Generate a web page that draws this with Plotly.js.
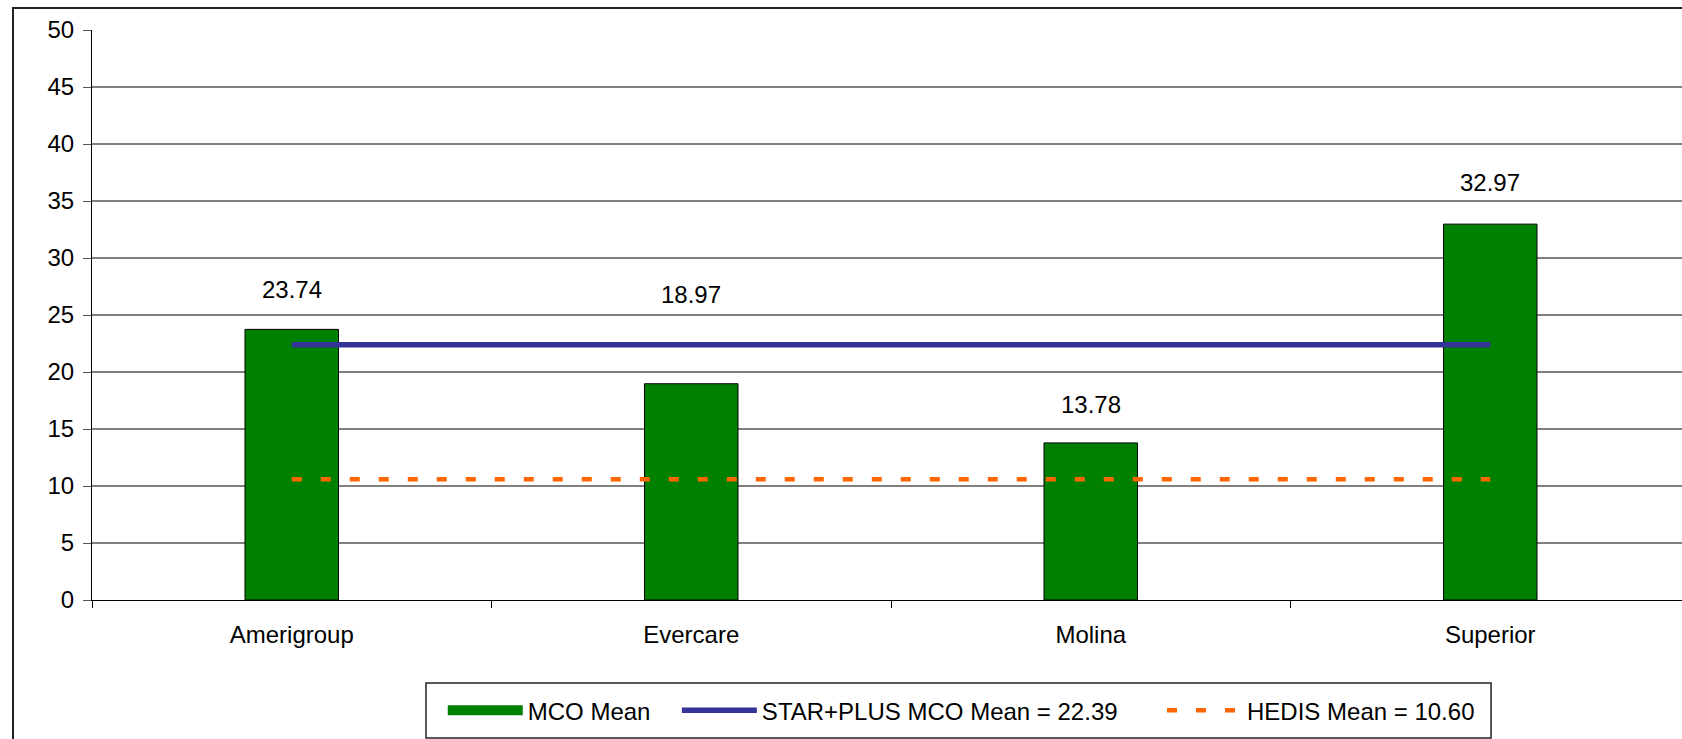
<!DOCTYPE html>
<html>
<head>
<meta charset="utf-8">
<script src="https://cdn.plot.ly/plotly-3.0.1.min.js"></script>
<style>
  html, body { margin: 0; padding: 0; overflow: hidden; background: #fff; }
  #frame { position: absolute; left: 12px; top: 7px; border: 2px solid #222; width: 1700px; height: 760px; }
  #chart { width: 1700px; height: 760px; }
</style>
</head>
<body>
<div id="frame"><div id="chart"></div></div>
<script>
const categories = ["Amerigroup", "Evercare", "Molina", "Superior"];
const mcoMean = [23.74, 18.97, 13.78, 32.97];
const starPlusMean = [22.39, 22.39, 22.39, 22.39];
const hedisMean = [10.60, 10.60, 10.60, 10.60];
const seriesNames = ["MCO Mean", "STAR+PLUS MCO Mean = 22.39", "HEDIS Mean = 10.60"];
const yTicks = [0, 5, 10, 15, 20, 25, 30, 35, 40, 45, 50];

// label placement offsets (px above bar top), as in the original chart
const labelShift = [40, 89, 38, 42];

const FONT = "Liberation Sans, Arial, sans-serif";
const FS = 24;

const traces = [
  {
    type: "bar", x: categories, y: mcoMean, name: seriesNames[0],
    showlegend: false,
    width: 0.234,
    marker: { color: "#008000", line: { color: "#000000", width: 1 } },
    hoverinfo: "none"
  },
  {
    // legend key only (wide green swatch like the original); draws no marks
    type: "scatter", mode: "lines", x: [null], y: [null], name: seriesNames[0], legend: "legend",
    line: { color: "#008000", width: 17 },
    hoverinfo: "none"
  },
  {
    type: "scatter", mode: "lines", x: categories, y: starPlusMean, name: seriesNames[1], legend: "legend2",
    line: { color: "#333399", width: 5.5 },
    hoverinfo: "none"
  },
  {
    type: "scatter", mode: "lines", x: categories, y: hedisMean, name: seriesNames[2], legend: "legend3",
    line: { color: "#FF6600", width: 4.5, dash: "10px,19px" },
    hoverinfo: "none"
  }
];

const annotations = categories.map((c, i) => ({
  x: c, y: mcoMean[i], xref: "x", yref: "y",
  text: mcoMean[i].toFixed(2), showarrow: false,
  yanchor: "middle", yshift: labelShift[i],
  font: { family: FONT, size: FS, color: "#000" }
}));

function legendAt(x) {
  return {
    orientation: "h", x: x, xanchor: "left", y: -0.1547, yanchor: "top",
    bgcolor: "rgba(0,0,0,0)", borderwidth: 0, itemwidth: 75,
    font: { family: FONT, size: FS, color: "#000" }
  };
}

const layout = {
  width: 1700, height: 760,
  margin: { l: 78, r: 24, t: 21, b: 169 },
  paper_bgcolor: "#ffffff", plot_bgcolor: "#ffffff",
  font: { family: FONT, size: FS, color: "#000" },
  showlegend: true,
  legend: legendAt(0.2195),
  legend2: legendAt(0.366),
  legend3: legendAt(0.6696),
  xaxis: {
    type: "category", range: [-0.5, 3.5],
    showgrid: false, showline: true, linecolor: "#000", linewidth: 1,
    ticks: "outside", tickson: "boundaries", ticklen: 7, tickcolor: "#000",
    tickfont: { family: FONT, size: FS, color: "#000" },
    ticklabelstandoff: 13,
    fixedrange: true
  },
  yaxis: {
    range: [0, 50], tickvals: yTicks, ticktext: yTicks.map(String),
    showgrid: true, gridcolor: "#808080", gridwidth: 1.3,
    zeroline: false,
    showline: true, linecolor: "#000", linewidth: 1,
    ticks: "outside", ticklen: 8, tickcolor: "#555",
    tickfont: { family: FONT, size: FS, color: "#000" },
    ticklabelstandoff: 4,
    fixedrange: true
  },
  annotations: annotations,
  shapes: [
    {
      type: "rect", xref: "paper", yref: "paper",
      x0: 0.209, x1: 0.8755, y0: -0.2421, y1: -0.1456,
      line: { color: "#222", width: 1.5 }, fillcolor: "rgba(0,0,0,0)"
    }
  ]
};

Plotly.newPlot("chart", traces, layout, { displayModeBar: false, staticPlot: true });
</script>
</body>
</html>
